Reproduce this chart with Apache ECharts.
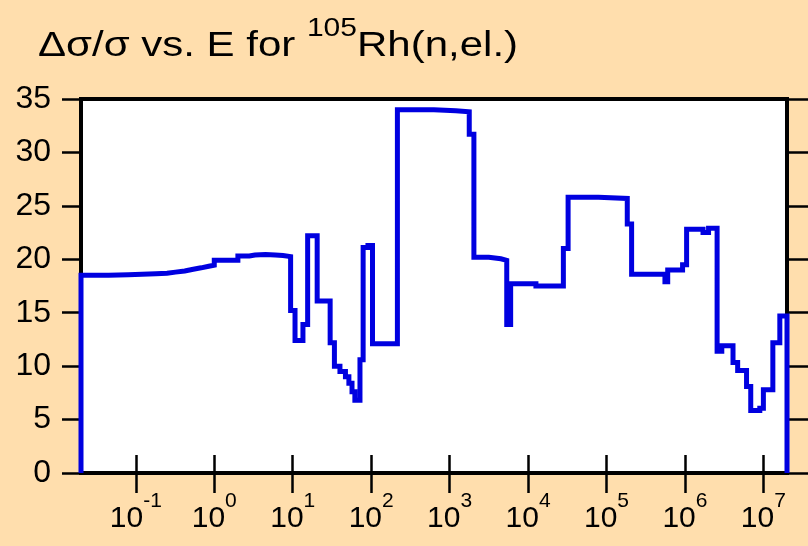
<!DOCTYPE html>
<html>
<head>
<meta charset="utf-8">
<script src="https://cdn.jsdelivr.net/npm/echarts@6/dist/echarts.min.js"></script>
<style>
  html, body { margin: 0; padding: 0; background: #FFDEAD; }
  #chart { width: 808px; height: 546px; }
</style>
</head>
<body>
<div id="chart"></div>
<script>
// Relative uncertainty of the 105Rh elastic cross section, group-wise (step) values.
// energies[i] is the lower edge of a group (eV); uncertainty[i] (%) holds up to energies[i+1].
const energies = [
  0.02, 0.02, 0.045, 0.08, 0.12, 0.18, 0.25, 0.32, 0.42, 0.52, 0.68, 0.85,
  1.0, 2.0, 2.8, 3.3, 4.5, 6.0, 7.5, 9.4, 10.7, 13.5, 15.5, 20.5,
  30, 34, 40, 47, 52, 57, 62, 72, 79, 91, 104,
  216, 630, 1200, 1780, 2040, 3160, 4500, 5350, 6000, 12600,
  28200, 32400, 79000, 184000, 209000, 556000, 603000, 933000,
  1.05e6, 1.7e6, 2.0e6, 2.57e6, 2.95e6, 4.1e6, 4.7e6, 6.1e6, 6.9e6,
  9.0e6, 1.0e7, 1.32e7, 1.62e7, 2.0e7
];
const uncertainty = [
  0, 18.5, 18.55, 18.6, 18.65, 18.7, 18.8, 18.9, 19.05, 19.2, 19.35, 19.45,
  19.9, 20.3, 20.4, 20.45, 20.4, 20.35, 20.25, 15.2, 12.4, 13.9, 22.2, 16.1,
  12.2, 10.0, 9.5, 9.0, 8.4, 7.6, 6.8, 10.6, 21.1, 21.3, 12.1,
  34.0, 33.9, 33.8, 31.7, 20.2, 20.05, 19.9, 13.9, 17.7, 17.5,
  21.0, 25.8, 25.7, 23.3, 18.6, 17.9, 19.0, 19.5,
  22.8, 22.5, 22.9, 11.4, 11.9, 10.35, 9.6, 8.1, 5.85,
  6.05, 7.8, 12.2, 14.7, 0
];

// Axis ranges and tick positions
const xRange = [0.02, 2.0e7];
const xDecades = [0.1, 1, 10, 100, 1e3, 1e4, 1e5, 1e6, 1e7];
const yRange = [0, 35];
const yStep = 5;

const titleParts = { lead: 'Δσ/σ vs. E for ', mass: '105', tail: 'Rh(n,el.)' };

const FONT = '"Liberation Sans", Arial, Helvetica, sans-serif';
const chart = echarts.init(document.getElementById('chart'), null, { renderer: 'canvas' });

const seriesData = energies.map((e, i) => [e, uncertainty[i]]);

const exponentLabel = v => {
  const p = Math.round(Math.log10(v));
  return '{b|10}{s|' + p + '}';
};

const tickStyle = { color: '#000', width: 2.5 };

chart.setOption({
  backgroundColor: '#FFDEAD',
  animation: false,
  graphic: [{
    type: 'text',
    left: 38,
    top: 17,
    scaleX: 1.2,
    style: {
      text: '{a|' + titleParts.lead + '}{s|' + titleParts.mass + '}{a|' + titleParts.tail + '}',
      rich: {
        a: { fontSize: 35, fontFamily: FONT, fill: '#000', verticalAlign: 'bottom', lineHeight: 47 },
        s: { fontSize: 25, fontFamily: FONT, fill: '#000', verticalAlign: 'top', lineHeight: 26 }
      }
    }
  }],
  grid: {
    left: 81, right: 21, top: 99, bottom: 73,
    show: true, backgroundColor: '#fff', borderColor: '#000', borderWidth: 4
  },
  xAxis: [{
    type: 'log', logBase: 10, min: xRange[0], max: xRange[1], position: 'bottom',
    axisLine: { show: false },
    splitLine: { show: false },
    minorTick: { show: false },
    axisTick: { show: true, inside: false, length: 20, lineStyle: tickStyle, customValues: xDecades },
    axisLabel: {
      show: true, margin: 18, customValues: xDecades, formatter: exponentLabel,
      rich: {
        b: { fontSize: 30, fontFamily: FONT, color: '#000', verticalAlign: 'bottom', lineHeight: 43 },
        s: { fontSize: 21, fontFamily: FONT, color: '#000', verticalAlign: 'top', lineHeight: 30 }
      }
    }
  }, {
    type: 'log', logBase: 10, min: xRange[0], max: xRange[1], position: 'top',
    axisLine: { show: false },
    splitLine: { show: false },
    axisTick: { show: true, inside: false, length: 18, lineStyle: tickStyle, customValues: xDecades },
    axisLabel: { show: false }
  }],
  yAxis: [{
    type: 'value', min: yRange[0], max: yRange[1], interval: yStep, position: 'left',
    axisLine: { show: false },
    splitLine: { show: false },
    axisTick: { show: true, inside: false, length: 19, lineStyle: tickStyle },
    axisLabel: { show: true, margin: 30, fontSize: 32, fontFamily: FONT, color: '#000' }
  }, {
    type: 'value', min: yRange[0], max: yRange[1], interval: yStep, position: 'right',
    axisLine: { show: false },
    splitLine: { show: false },
    axisTick: { show: true, inside: false, length: 22, lineStyle: tickStyle },
    axisLabel: { show: false }
  }],
  series: [{
    type: 'line',
    xAxisIndex: 0, yAxisIndex: 0,
    step: 'end',
    data: seriesData,
    showSymbol: false,
    clip: false,
    lineStyle: { color: '#0000E0', width: 5, join: 'miter' }
  }]
});
</script>
</body>
</html>
